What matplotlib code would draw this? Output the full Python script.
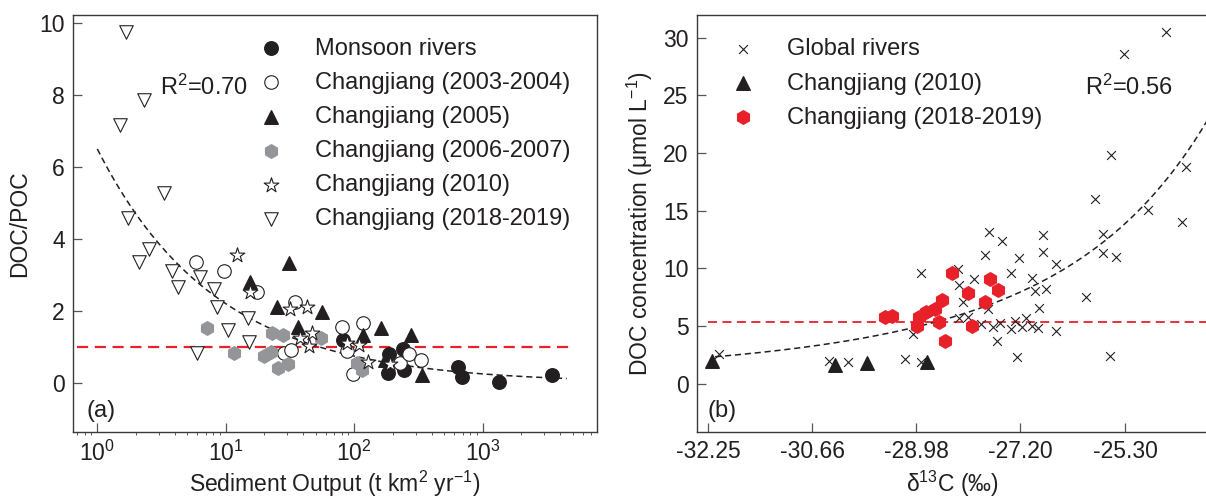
import matplotlib
matplotlib.use('Agg')
import matplotlib.pyplot as plt
import numpy as np

plt.rcParams['font.family'] = ['Liberation Sans', 'DejaVu Sans']
plt.rcParams['mathtext.fontset'] = 'custom'
plt.rcParams['mathtext.rm'] = 'Liberation Sans'
plt.rcParams['mathtext.default'] = 'regular'

TXT = '#231f20'

# ---- panel (a) data: DOC/POC vs sediment output
monsoon_x = [82, 187, 184, 240, 244, 644, 685, 1343, 3437]
monsoon_y = [1.19, 0.81, 0.27, 0.94, 0.36, 0.45, 0.18, 0.04, 0.22]
cj0304_x = [5.87, 9.68, 17.6, 34.6, 28.4, 32.0, 79.8, 117, 87.6, 97.2, 226, 268, 328]
cj0304_y = [3.37, 3.12, 2.54, 2.26, 0.84, 0.92, 1.56, 1.66, 0.90, 0.25, 0.55, 0.81, 0.64]
cj05_x = [15.4, 31.2, 25.2, 36.7, 55.7, 116, 161, 276, 173, 334]
cj05_y = [2.81, 3.34, 2.12, 1.56, 1.98, 1.33, 1.52, 1.33, 0.64, 0.22]
cj0607_x = [7.10, 11.6, 19.8, 22.4, 22.8, 25.6, 30.6, 28.0, 55.0, 104.5, 114]
cj0607_y = [1.52, 0.82, 0.75, 0.87, 1.40, 0.41, 0.53, 1.33, 1.24, 0.55, 0.36]
cj10_x = [12.2, 15.4, 31.6, 42.6, 46.5, 37.8, 44.6, 87.6, 109, 128.5, 191]
cj10_y = [3.56, 2.54, 2.05, 2.12, 1.38, 1.24, 1.03, 1.10, 1.06, 0.59, 0.53]
cj1819_x = [1.67, 2.31, 1.50, 3.32, 1.74, 2.54, 2.11, 3.79, 4.27, 6.30, 8.09, 8.49, 10.4, 15.0, 15.2, 5.94]
cj1819_y = [9.74, 7.86, 7.17, 5.27, 4.57, 3.71, 3.35, 3.11, 2.66, 2.94, 2.60, 2.12, 1.47, 1.80, 1.15, 0.82]
fit_a = (6.5, -0.47)        # power law y = a * x^b
fit_a_range = (1.0, 4500)
ref_a = 1.0
ref_a_range = (0.7, 4800)

# ---- panel (b) data: DOC concentration vs d13C
glob_x = [-25.86, -24.87, -24.24, -27.75, -27.525, -26.79, -26.79, -25.71, -25.71, -25.48,
          -27.81, -27.23, -26.56, -28.28, -27.36, -28.00, -27.00, -28.26, -26.94, -26.74,
          -26.03, -28.19, -26.87, -27.77, -28.26, -28.11, -27.88, -27.68, -27.55, -27.37,
          -27.29, -27.17, -27.09, -26.99, -26.89, -26.56, -27.61, -27.25, -25.59, -24.53,
          -25.32, -25.57, -24.16, -28.90, -29.04, -29.17, -28.90, -32.09, -30.40, -30.09]
glob_y = [16.0, 15.1, 14.05, 13.2, 12.4, 12.9, 11.45, 12.95, 11.3, 11.0,
          11.2, 10.95, 10.35, 9.96, 9.64, 9.1, 9.2, 8.57, 8.08, 8.2,
          7.56, 7.13, 6.55, 6.46, 5.69, 5.77, 5.17, 4.96, 5.3, 4.73,
          5.48, 4.96, 5.74, 5.02, 4.82, 4.59, 3.72, 2.36, 2.42, 30.5,
          28.6, 19.8, 18.8, 9.6, 4.3, 2.2, 1.9, 2.6, 2.0, 1.9]
cj10b_x = [-32.20, -30.30, -29.79, -28.80]
cj10b_y = [2.0, 1.65, 1.8, 1.9]
cj1819b_x = [-29.50, -29.38, -28.96, -28.93, -28.81, -28.67, -28.55, -28.60, -28.50, -28.38,
             -28.11, -28.04, -27.82, -27.73, -27.59]
cj1819b_y = [5.8, 5.9, 5.0, 5.8, 6.2, 6.5, 7.3, 5.4, 3.7, 9.6, 7.85, 5.05, 7.1, 9.05, 8.1]
fit_b = (0.835, 0.21, 0.007)   # ln y = c0 + c1*u + c2*u^2, u = x + 32.25
fit_b_range = (-32.15, -23.6)
ref_b = 5.34
ref_b_range = (-32.25, -23.6)
b_ticks = [-32.25, -30.66, -28.98, -27.20, -25.30]

fig = plt.figure(figsize=(12.06, 4.98), dpi=100)
W, H = 1206, 498
ax1 = fig.add_axes([73 / W, 66 / H, 524 / W, 417 / H])
ax2 = fig.add_axes([697 / W, 66 / H, 510.5 / W, 417 / H])

ms = 95
# (a)
ax1.scatter(monsoon_x, monsoon_y, s=ms, marker='o', c='#231f20', zorder=3, label='Monsoon rivers')
ax1.scatter(cj0304_x, cj0304_y, s=ms, marker='o', facecolors='white', edgecolors='#231f20',
            linewidths=0.8, zorder=3, label='Changjiang (2003-2004)')
ax1.scatter(cj05_x, cj05_y, s=ms, marker='^', c='#231f20', zorder=3, label='Changjiang (2005)')
ax1.scatter(cj0607_x, cj0607_y, s=ms, marker='h', c='#939598', zorder=3, label='Changjiang (2006-2007)')
ax1.scatter(cj10_x, cj10_y, s=ms * 1.3, marker='*', facecolors='white', edgecolors='#231f20',
            linewidths=0.8, zorder=4, label='Changjiang (2010)')
ax1.scatter(cj1819_x, cj1819_y, s=ms, marker='v', facecolors='white', edgecolors='#231f20',
            linewidths=0.8, zorder=3, label='Changjiang (2018-2019)')

xf = np.logspace(np.log10(fit_a_range[0]), np.log10(fit_a_range[1]), 200)
ax1.plot(xf, fit_a[0] * xf ** fit_a[1], ls=(0, (4, 2.5)), c='#231f20', lw=1.1, zorder=2)
ax1.plot(ref_a_range, [ref_a, ref_a], ls=(0, (5, 3)), c='#e8202a', lw=1.6, zorder=1)

ax1.set_xscale('log')
ax1.set_xlim(0.647, 7740)
ax1.set_ylim(-1.36, 10.22)
ax1.set_yticks([0, 2, 4, 6, 8, 10])
ax1.set_xlabel('Sediment Output (t km$^2$ yr$^{-1}$)', fontsize=16.5, color=TXT, labelpad=2)
ax1.set_ylabel('DOC/POC', fontsize=16.5, color=TXT, labelpad=6)
ax1.text(3.08, 8.22, 'R$^2$=0.70', fontsize=17, color=TXT, va='center', ha='left')
ax1.text(0.025, 0.05, '(a)', transform=ax1.transAxes, fontsize=17, color=TXT, va='center')
ax1.legend(loc='upper left', bbox_to_anchor=(0.355, 0.946), frameon=False, fontsize=17,
           scatterpoints=1, handlelength=1.0, handletextpad=1.35, labelspacing=0.515,
           borderpad=0, borderaxespad=0, labelcolor=TXT)

# (b)
ax2.scatter(glob_x, glob_y, s=40, marker='x', c='#231f20', linewidths=0.8, zorder=3, label='Global rivers')
ax2.scatter(cj10b_x, cj10b_y, s=ms, marker='^', c='#231f20', zorder=4, label='Changjiang (2010)')
ax2.scatter(cj1819b_x, cj1819b_y, s=ms, marker='h', c='#e8202a', zorder=3, label='Changjiang (2018-2019)')
xb = np.linspace(fit_b_range[0], fit_b_range[1], 200)
u = xb + 32.25
ax2.plot(xb, np.exp(fit_b[0] + fit_b[1] * u + fit_b[2] * u ** 2), ls=(0, (4, 2.5)), c='#231f20',
         lw=1.1, zorder=2)
ax2.plot(ref_b_range, [ref_b, ref_b], ls=(0, (5, 3)), c='#e8202a', lw=1.3, zorder=1)

c_off = 60.34
ax2.set_xscale('function', functions=(lambda v: np.log(v + c_off), lambda t: np.exp(t) - c_off))
ax2.set_xlim(-32.42, -23.74)
ax2.set_ylim(-4.16, 31.95)
ax2.set_xticks(b_ticks)
ax2.set_xticklabels(['%.2f' % v for v in b_ticks])
ax2.xaxis.set_minor_locator(matplotlib.ticker.NullLocator())
ax2.set_yticks([0, 5, 10, 15, 20, 25, 30])
ax2.set_xlabel('δ$^{13}$C (‰)', fontsize=16.5, color=TXT, labelpad=4)
ax2.set_ylabel('DOC concentration (μmol L$^{-1}$)', fontsize=16.5, color=TXT, labelpad=6)
ax2.text(-26.05, 25.7, 'R$^2$=0.56', fontsize=17, color=TXT, va='center', ha='left')
ax2.text(0.02, 0.05, '(b)', transform=ax2.transAxes, fontsize=17, color=TXT, va='center')
ax2.legend(loc='upper left', bbox_to_anchor=(0.067, 0.944), frameon=False, fontsize=17,
           scatterpoints=1, handlelength=1.0, handletextpad=1.35, labelspacing=0.515,
           borderpad=0, borderaxespad=0, labelcolor=TXT)

for ax in (ax1, ax2):
    for sp in ax.spines.values():
        sp.set_color('#3a3a3a')
        sp.set_linewidth(1.0)
    ax.tick_params(which='major', direction='in', length=6.5, width=0.9, color='#555555',
                   labelsize=16.5, labelcolor=TXT, pad=6)
ax1.tick_params(which='minor', direction='out', length=2.5, width=0.7, color='#555555')

fig.savefig('out.png', dpi=100)
